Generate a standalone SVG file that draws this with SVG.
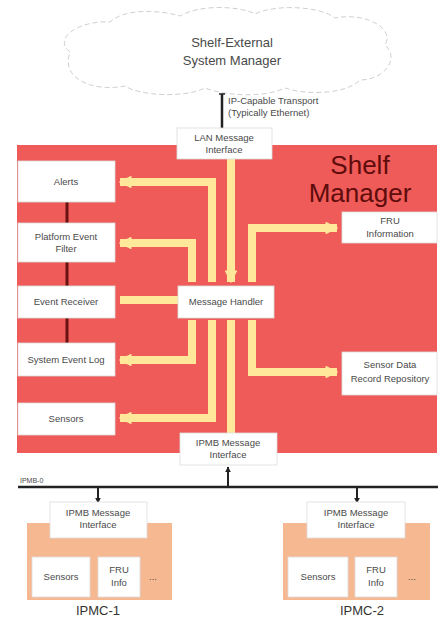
<svg xmlns="http://www.w3.org/2000/svg" width="444" height="619" viewBox="0 0 444 619">
<style>
  text { font-family: "Liberation Sans", Arial, sans-serif; fill: #4a4a4a; text-anchor: middle; }
  .t { font-size: 9.5px; }
  .box { fill: #ffffff; stroke: #dddddd; stroke-width: 0.8; }
  .yl { fill: none; stroke: #FFE89A; stroke-width: 8; stroke-linejoin: miter; }
  .dr { stroke: #6a1212; stroke-width: 3; }
  .blk { stroke: #222222; stroke-width: 2; fill: none; }
</style>
<defs>
  <marker id="ya" viewBox="0 0 10 10" refX="9" refY="5" markerWidth="1.6" markerHeight="1.6" orient="auto" markerUnits="strokeWidth">
    <path d="M0,0 L10,5 L0,10 z" fill="#FFE89A"/>
  </marker>
  <marker id="ba" viewBox="0 0 10 10" refX="9" refY="5" markerWidth="3" markerHeight="3" orient="auto" markerUnits="strokeWidth">
    <path d="M0,0 L10,5 L0,10 z" fill="#222222"/>
  </marker>
</defs>

<!-- cloud -->
<g id="cloud">
  <path d="M70,52 C52,38 80,20 110,22 C125,8 160,10 180,16 C200,4 240,6 255,14 C275,4 320,6 335,18 C365,12 395,28 385,45 C400,58 385,80 360,80 C345,95 305,95 285,88 C265,98 225,96 205,88 C185,98 140,96 125,86 C95,92 60,80 70,52 Z" fill="#ffffff" stroke="#cfcfcf" stroke-width="1" stroke-dasharray="5,3"/>
  <text x="232" y="47" style="font-size:13px" fill="#555">Shelf-External</text>
  <text x="232" y="65" style="font-size:13px" fill="#555">System Manager</text>
</g>

<!-- shelf manager -->
<g id="shelf-manager">
  <rect x="17" y="145" width="420" height="308" fill="#EF5B58"/>
  <text x="360" y="174" style="font-size:26px;fill:#5e0c0c">Shelf</text>
  <text x="360" y="202" style="font-size:26px;fill:#5e0c0c">Manager</text>
</g>

<g id="connectors">
  <!-- IP transport -->
  <line x1="222" y1="94" x2="222" y2="128" stroke="#222" stroke-width="2.5"/>
  <line x1="219" y1="94" x2="225" y2="94" stroke="#222" stroke-width="1.5"/>
  <!-- dark red links between left boxes -->
  <line class="dr" x1="67" y1="202" x2="67" y2="223"/>
  <line class="dr" x1="67" y1="262" x2="67" y2="286"/>
  <line class="dr" x1="67" y1="318" x2="67" y2="343"/>
  <!-- yellow message paths -->
  <path class="yl" d="M212,282 L212,182 L120,182" marker-end="url(#ya)"/>
  <path class="yl" d="M192,282 L192,243 L120,243" marker-end="url(#ya)"/>
  <path class="yl" d="M231,159 L231,282" marker-end="url(#ya)"/>
  <path class="yl" d="M252,282 L252,228 L337,228" marker-end="url(#ya)"/>
  <path class="yl" d="M178,300 L120,300"/>
  <path class="yl" d="M192,320 L192,360 L120,360" marker-end="url(#ya)"/>
  <path class="yl" d="M212,320 L212,418 L120,418" marker-end="url(#ya)"/>
  <path class="yl" d="M231,320 L231,433"/>
  <path class="yl" d="M252,320 L252,372 L337,372" marker-end="url(#ya)"/>
  <!-- IPMB bus -->
  <line x1="18" y1="487" x2="438" y2="487" stroke="#222" stroke-width="2.5"/>
  <line class="blk" x1="228" y1="487" x2="228" y2="467" marker-end="url(#ba)"/>
  <line class="blk" x1="98" y1="487" x2="98" y2="503" marker-end="url(#ba)"/>
  <line class="blk" x1="357" y1="487" x2="357" y2="503" marker-end="url(#ba)"/>
</g>

<g id="ip-label">
  <text x="228" y="104" class="t" style="text-anchor:start">IP-Capable Transport</text>
  <text x="228" y="116" class="t" style="text-anchor:start">(Typically Ethernet)</text>
</g>

<g id="lan-if">
  <rect class="box" x="177" y="128" width="95" height="31"/>
  <text class="t" x="224" y="141">LAN Message</text>
  <text class="t" x="224" y="153">Interface</text>
</g>
<g id="alerts">
  <rect class="box" x="18" y="161" width="97" height="41"/>
  <text class="t" x="66" y="185">Alerts</text>
</g>
<g id="pef">
  <rect class="box" x="18" y="223" width="97" height="39"/>
  <text class="t" x="66" y="240">Platform Event</text>
  <text class="t" x="66" y="252">Filter</text>
</g>
<g id="event-receiver">
  <rect class="box" x="18" y="286" width="97" height="32"/>
  <text class="t" x="66" y="305">Event Receiver</text>
</g>
<g id="sel">
  <rect class="box" x="18" y="343" width="97" height="33"/>
  <text class="t" x="66" y="363">System Event Log</text>
</g>
<g id="sensors">
  <rect class="box" x="18" y="403" width="97" height="32"/>
  <text class="t" x="66" y="422">Sensors</text>
</g>
<g id="message-handler">
  <rect class="box" x="178" y="286" width="96" height="32"/>
  <text class="t" x="226" y="305">Message Handler</text>
</g>
<g id="fru-info">
  <rect class="box" x="342" y="212" width="95" height="31"/>
  <text class="t" x="390" y="224">FRU</text>
  <text class="t" x="390" y="237">Information</text>
</g>
<g id="sdr">
  <rect class="box" x="342" y="352" width="95" height="43"/>
  <text class="t" x="390" y="368">Sensor Data</text>
  <text class="t" x="390" y="382">Record Repository</text>
</g>
<g id="ipmb-if">
  <rect class="box" x="180" y="433" width="97" height="32"/>
  <text class="t" x="228" y="446">IPMB Message</text>
  <text class="t" x="228" y="458">Interface</text>
</g>

<g id="bus-label">
  <text x="20" y="483" style="font-size:7px;text-anchor:start">IPMB-0</text>
</g>

<g id="ipmc-1">
  <rect x="27" y="523" width="145" height="77" fill="#F6B890"/>
  <rect class="box" x="50" y="502" width="97" height="36"/>
  <text class="t" x="98" y="516">IPMB Message</text>
  <text class="t" x="98" y="528">Interface</text>
  <rect class="box" x="32" y="557" width="58" height="40"/>
  <text class="t" x="61" y="580">Sensors</text>
  <rect class="box" x="98" y="557" width="42" height="40"/>
  <text class="t" x="119" y="573">FRU</text>
  <text class="t" x="119" y="586">Info</text>
  <text class="t" x="153" y="580">...</text>
  <text x="98" y="615" style="font-size:13px;fill:#333">IPMC-1</text>
</g>

<g id="ipmc-2">
  <rect x="283" y="523" width="147" height="77" fill="#F6B890"/>
  <rect class="box" x="307" y="502" width="98" height="36"/>
  <text class="t" x="356" y="516">IPMB Message</text>
  <text class="t" x="356" y="528">Interface</text>
  <rect class="box" x="288" y="557" width="60" height="40"/>
  <text class="t" x="318" y="580">Sensors</text>
  <rect class="box" x="355" y="557" width="42" height="40"/>
  <text class="t" x="376" y="573">FRU</text>
  <text class="t" x="376" y="586">Info</text>
  <text class="t" x="412" y="580">...</text>
  <text x="362" y="615" style="font-size:13px;fill:#333">IPMC-2</text>
</g>
</svg>
